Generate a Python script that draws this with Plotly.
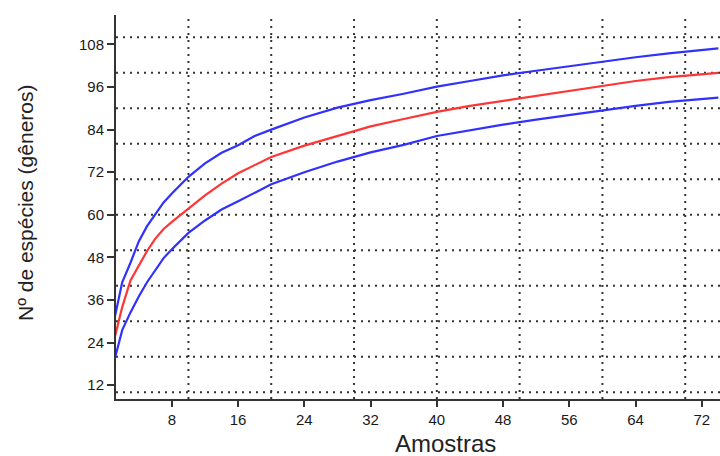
import plotly.graph_objects as go

# Samples (Amostras)
amostras = [1, 2, 3, 4, 5, 6, 7, 8, 10, 12, 14, 16, 18, 20, 24, 28, 32, 36,
            40, 44, 48, 52, 56, 60, 64, 68, 72, 74]

# Upper confidence bound (blue)
upper = [30, 41, 46.5, 52.5, 56.8, 60.3, 63.5, 66, 70.7, 74.5, 77.5, 79.6,
         82.2, 84, 87.4, 90.2, 92.3, 94.1, 96.1, 97.7, 99.3, 100.6, 101.9,
         103.1, 104.4, 105.5, 106.5, 106.9]

# Mean accumulation curve (red)
mean = [24.5, 34, 41.5, 45.5, 49.8, 53.3, 56, 58, 61.8, 65.5, 68.8, 71.7,
        74, 76.3, 79.5, 82.3, 84.9, 87, 89, 90.7, 92.1, 93.5, 95.1, 96.5,
        97.7, 98.8, 99.7, 100]

# Lower confidence bound (blue)
lower = [18.5, 27.5, 32.5, 37, 41, 44.4, 47.8, 50.3, 54.9, 58.4, 61.5, 63.8,
         66.3, 68.6, 72, 75, 77.6, 79.7, 82.2, 83.9, 85.4, 86.8, 88.1, 89.5,
         90.7, 91.8, 92.7, 93]

x_ticks = [8, 16, 24, 32, 40, 48, 56, 64, 72]
y_ticks = [12, 24, 36, 48, 60, 72, 84, 96, 108]
grid_x = [10, 20, 30, 40, 50, 60, 70]
grid_y = [10, 20, 30, 40, 50, 60, 70, 80, 90, 100, 110]

x_range = [1.25, 74.2]
y_range = [8.1, 116.3]

BLUE = "#3030ff"
RED = "#ff3535"
DARK = "#333333"
FONT = "Liberation Sans, Arial, sans-serif"

fig = go.Figure()
fig.add_trace(go.Scatter(x=amostras, y=upper, mode="lines",
                         line=dict(color=BLUE, width=2.2), showlegend=False))
fig.add_trace(go.Scatter(x=amostras, y=mean, mode="lines",
                         line=dict(color=RED, width=2.2), showlegend=False))
fig.add_trace(go.Scatter(x=amostras, y=lower, mode="lines",
                         line=dict(color=BLUE, width=2.2), showlegend=False))

shapes = []
for gx in grid_x:
    shapes.append(dict(type="line", xref="x", yref="paper", x0=gx, x1=gx,
                       y0=0, y1=1, layer="below",
                       line=dict(color=DARK, width=2, dash="2px,5px")))
for gy in grid_y:
    shapes.append(dict(type="line", xref="paper", yref="y", x0=0, x1=1,
                       y0=gy, y1=gy, layer="below",
                       line=dict(color=DARK, width=2, dash="2px,5px")))

fig.update_layout(
    width=720, height=456,
    margin=dict(l=116, r=0, t=15, b=57),
    paper_bgcolor="white", plot_bgcolor="white",
    font=dict(family=FONT, color="#222222"),
    shapes=shapes,
    xaxis=dict(range=x_range, tickvals=x_ticks, ticktext=[str(v) for v in x_ticks],
               showgrid=False, zeroline=False, showline=True, linecolor=DARK,
               linewidth=2, ticks="outside", ticklen=6, tickwidth=2,
               tickcolor=DARK, tickfont=dict(size=15, family=FONT, color="#1a1a1a")),
    yaxis=dict(range=y_range, tickvals=y_ticks, ticktext=[str(v) for v in y_ticks],
               showgrid=False, zeroline=False, showline=True, linecolor=DARK,
               linewidth=2, ticks="outside", ticklen=7, tickwidth=2,
               tickcolor=DARK, tickfont=dict(size=15, family=FONT, color="#1a1a1a")),
    annotations=[
        dict(text="Amostras", xref="paper", yref="paper", x=0.545, y=-0.115,
             xanchor="center", yanchor="middle", showarrow=False,
             font=dict(size=24, family=FONT, color="#222222")),
        dict(text="Nº de espécies (gêneros)", xref="paper", yref="paper",
             x=-0.151, y=0.51, xanchor="center", yanchor="middle",
             textangle=-90, showarrow=False,
             font=dict(size=21, family=FONT, color="#222222")),
    ],
)

fig.write_html("out.html")
